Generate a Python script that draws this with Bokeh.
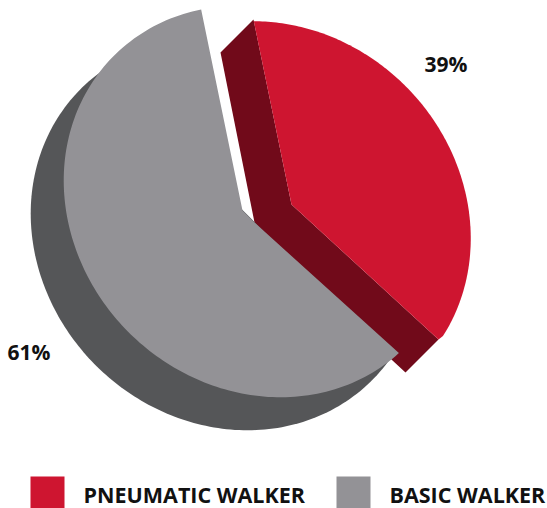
import numpy as np
from bokeh.plotting import figure
from bokeh.embed import file_html
from bokeh.resources import INLINE
from bokeh.core.properties import value

categories = ["PNEUMATIC WALKER", "BASIC WALKER"]
shares = [39, 61]
share_labels = ["39%", "61%"]

RED, DRED, GRAY, DGRAY = "#CE1530", "#710A1A", "#939296", "#555658"
FONT = "Open Sans"


def arc(cx, cy, start, sweep, a=206.0, b=185.0, phi=135.0, n=160):
    th = np.radians(np.linspace(start, start + sweep, n))
    d = th - np.radians(phi)
    r = 1 / np.sqrt((np.cos(d) / a) ** 2 + (np.sin(d) / b) ** 2)
    return cx + r * np.cos(th), cy - r * np.sin(th)


p = figure(width=547, height=508, x_range=(0, 547), y_range=(508, 0),
           toolbar_location=None, output_backend="svg", min_border=0,
           background_fill_color="white", border_fill_color="white")
p.axis.visible = False
p.grid.visible = False
p.outline_line_color = None

# slice sweeps are proportional to the values (pie spans less than 360 deg because of the gaps)
red_sweep = -shares[0] * 3.345
gray_sweep = shares[1] * 3.372

rx, ry = arc(273, 218, 95.7, red_sweep, a=207, b=187)
gx, gy = arc(259, 201, 106.9, gray_sweep)
sx, sy = arc(226, 234, 127, 196)

# red side wall
p.patch([220, 254, 392, 405, 438, 291, 253], [52, 222, 360, 372, 339, 204, 19], color=DRED, line_width=0)
# gray side wall
p.patch(sx, sy, color=DGRAY, line_width=0)
# gray face
p.patch(np.r_[gx, 254, 242], np.r_[gy, 222, 210], color=GRAY, line_width=0)
# red face
p.patch(np.r_[rx, 438, 291], np.r_[ry, 339, 204], color=RED, line_width=0)

p.text([424, 7], [63, 351], text=share_labels, text_font=value(FONT), text_font_style="bold",
       text_font_size="21px", text_color="#111111", text_baseline="middle", text_align="left")

p.quad(left=[30, 336], right=[64, 370], top=[476, 476], bottom=[508, 508],
       color=[RED, GRAY], line_width=0)
p.text([83, 389], [493.5, 493.5], text=categories, text_font=value(FONT), text_font_style="bold",
       text_font_size="21.5px", text_color="#111111", text_baseline="middle", text_align="left")

open("out.html", "w").write(file_html(p, INLINE))
